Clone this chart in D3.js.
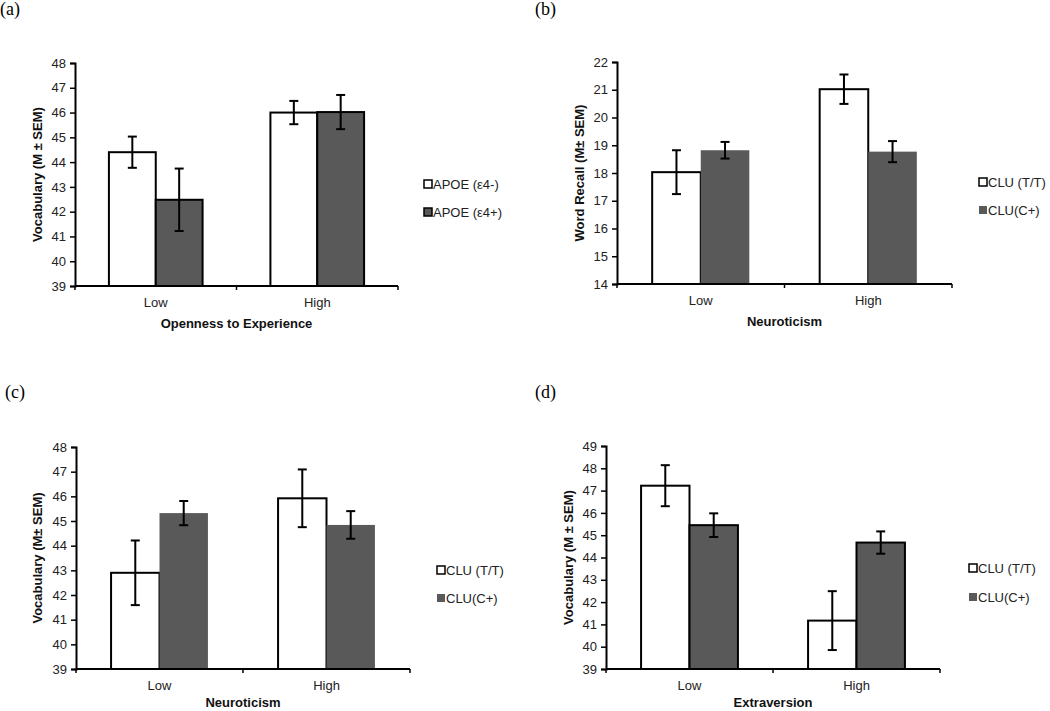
<!DOCTYPE html>
<html><head><meta charset="utf-8">
<script src="https://cdn.jsdelivr.net/npm/d3@7"></script>
<style>
body{margin:0;background:#fff;}
svg{display:block;font-family:"Liberation Sans",Arial,sans-serif;}
</style></head>
<body>
<svg id="chart" width="1050" height="711"></svg>
<script>
// ---------- data ----------
const categories = ["Low", "High"];

// (a) Openness to Experience – Vocabulary
const aSeries = ["APOE (ε4-)", "APOE (ε4+)"];
const aWhite = [44.40, 46.00];
const aWhiteErr = [0.63, 0.47];
const aGray = [42.48, 46.02];
const aGrayErr = [1.26, 0.69];
const aTicks = [39, 40, 41, 42, 43, 44, 45, 46, 47, 48];

// (b) Neuroticism – Word Recall
const bSeries = ["CLU (T/T)", "CLU(C+)"];
const bWhite = [18.03, 21.02];
const bWhiteErr = [0.79, 0.53];
const bGray = [18.82, 18.77];
const bGrayErr = [0.30, 0.38];
const bTicks = [14, 15, 16, 17, 18, 19, 20, 21, 22];

// (c) Neuroticism – Vocabulary
const cSeries = ["CLU (T/T)", "CLU(C+)"];
const cWhite = [42.90, 45.92];
const cWhiteErr = [1.31, 1.17];
const cGray = [45.32, 44.84];
const cGrayErr = [0.49, 0.56];
const cTicks = [39, 40, 41, 42, 43, 44, 45, 46, 47, 48];

// (d) Extraversion – Vocabulary
const dSeries = ["CLU (T/T)", "CLU(C+)"];
const dWhite = [47.22, 41.17];
const dWhiteErr = [0.92, 1.32];
const dGray = [45.45, 44.67];
const dGrayErr = [0.53, 0.50];
const dTicks = [39, 40, 41, 42, 43, 44, 45, 46, 47, 48, 49];

// ---------- drawing ----------
const svg = d3.select("#chart");
const GRAY = "#595959";

function drawPanel(o) {
  const g = svg.append("g");
  const x = d3.scaleBand().domain(categories).range([o.x0, o.x1]);
  const bw = x.bandwidth();
  const xs = d3.scaleBand().domain([0, 1]).range([bw * 0.21, bw * 0.79]);
  const y = d3.scaleLinear().domain([o.ticks[0], o.ticks[o.ticks.length - 1]]).range([o.yb, o.yt]);

  const rows = [];
  categories.forEach((c, i) => {
    rows.push({c, s: 0, v: o.white[i], e: o.whiteErr[i]});
    rows.push({c, s: 1, v: o.gray[i], e: o.grayErr[i]});
  });

  // bars
  g.selectAll("rect.bar").data(rows).join("rect")
    .attr("x", d => x(d.c) + xs(d.s))
    .attr("y", d => y(d.v))
    .attr("width", xs.bandwidth())
    .attr("height", d => y(o.ticks[0]) - y(d.v))
    .attr("fill", d => d.s === 0 ? "#fff" : GRAY)
    .attr("stroke", d => (d.s === 0 || o.grayStroke) ? "#000" : "none")
    .attr("stroke-width", 2);

  // error bars
  const eb = g.selectAll("g.err").data(rows).join("g")
    .attr("stroke", "#000").attr("stroke-width", 2);
  eb.append("line")
    .attr("x1", d => x(d.c) + xs(d.s) + xs.bandwidth() / 2)
    .attr("x2", d => x(d.c) + xs(d.s) + xs.bandwidth() / 2)
    .attr("y1", d => y(d.v + d.e)).attr("y2", d => y(d.v - d.e));
  [1, -1].forEach(sgn => {
    eb.append("line")
      .attr("x1", d => x(d.c) + xs(d.s) + xs.bandwidth() / 2 - 4.5)
      .attr("x2", d => x(d.c) + xs(d.s) + xs.bandwidth() / 2 + 4.5)
      .attr("y1", d => y(d.v + sgn * d.e)).attr("y2", d => y(d.v + sgn * d.e));
  });

  // y axis
  const ya = g.append("g").attr("transform", `translate(${o.x0},0)`)
    .call(d3.axisLeft(y).tickValues(o.ticks).tickSize(5).tickPadding(4).tickFormat(d3.format("d")));
  ya.select(".domain").attr("stroke-width", 2);
  ya.selectAll(".tick line").attr("stroke-width", 1.5);
  ya.selectAll("text").attr("font-size", 13).attr("fill", "#222")
    .attr("font-family", "Liberation Sans, Arial, sans-serif");

  // x axis line + ticks at band boundaries
  g.append("line").attr("x1", o.x0).attr("x2", o.x1)
    .attr("y1", o.yb).attr("y2", o.yb).attr("stroke", "#000").attr("stroke-width", 2);
  const bounds = [o.x0].concat(categories.map(c => x(c) + bw));
  g.selectAll("line.xt").data(bounds).join("line")
    .attr("x1", d => d).attr("x2", d => d)
    .attr("y1", o.yb).attr("y2", o.yb + 4)
    .attr("stroke", "#000").attr("stroke-width", 1.5);
  g.selectAll("text.cat").data(categories).join("text")
    .attr("x", d => x(d) + bw / 2).attr("y", o.yb + 21)
    .attr("text-anchor", "middle").attr("font-size", 13).attr("fill", "#222")
    .text(d => d);

  // axis titles
  g.append("text").attr("x", (o.x0 + o.x1) / 2).attr("y", o.yb + o.xtOff)
    .attr("text-anchor", "middle").attr("font-size", 13).attr("font-weight", "bold")
    .attr("fill", "#111").text(o.xTitle);
  g.append("text")
    .attr("transform", `translate(${o.ylx},${(o.yt + o.yb) / 2}) rotate(-90)`)
    .attr("text-anchor", "middle").attr("dy", "0.35em").attr("font-size", 13).attr("font-weight", "bold")
    .attr("fill", "#111").text(o.yTitle);

  // panel label
  g.append("text").attr("x", o.lx).attr("y", o.ly)
    .attr("font-family", "Liberation Serif, Times New Roman, serif")
    .attr("font-size", 18).attr("fill", "#000").text(o.label);

  // legend
  const lg = g.selectAll("g.leg").data(o.series).join("g")
    .attr("transform", (d, i) => `translate(${o.legX},${o.legY + i * o.legGap})`);
  lg.append("rect").attr("x", -4).attr("y", -4).attr("width", 8).attr("height", 8)
    .attr("fill", (d, i) => i === 0 ? "#fff" : GRAY)
    .attr("stroke", (d, i) => (i === 0 || o.legGrayStroke) ? "#000" : "none")
    .attr("stroke-width", 1.5);
  lg.append("text").attr("x", 5).attr("y", 0).attr("dy", "0.36em")
    .attr("font-size", 13).attr("fill", "#222").text(d => d);
}

drawPanel({label: "(a)", lx: 0, ly: 15, x0: 75, x1: 398, yt: 63, yb: 286, ticks: aTicks,
  white: aWhite, whiteErr: aWhiteErr, gray: aGray, grayErr: aGrayErr, grayStroke: true,
  series: aSeries, legX: 428, legY: 184, legGap: 28, legGrayStroke: true, xtOff: 42,
  xTitle: "Openness to Experience", yTitle: "Vocabulary (M ± SEM)", ylx: 37});

drawPanel({label: "(b)", lx: 535, ly: 15, x0: 617, x1: 952, yt: 62, yb: 284, ticks: bTicks,
  white: bWhite, whiteErr: bWhiteErr, gray: bGray, grayErr: bGrayErr, grayStroke: false,
  series: bSeries, legX: 983, legY: 182, legGap: 28, legGrayStroke: false, xtOff: 42,
  xTitle: "Neuroticism", yTitle: "Word Recall (M± SEM)", ylx: 579});

drawPanel({label: "(c)", lx: 5, ly: 398, x0: 76, x1: 410, yt: 447, yb: 669, ticks: cTicks,
  white: cWhite, whiteErr: cWhiteErr, gray: cGray, grayErr: cGrayErr, grayStroke: false,
  series: cSeries, legX: 441, legY: 570, legGap: 28, legGrayStroke: false, xtOff: 38,
  xTitle: "Neuroticism", yTitle: "Vocabulary (M± SEM)", ylx: 37});

drawPanel({label: "(d)", lx: 535, ly: 398, x0: 606, x1: 940, yt: 446, yb: 669, ticks: dTicks,
  white: dWhite, whiteErr: dWhiteErr, gray: dGray, grayErr: dGrayErr, grayStroke: true,
  series: dSeries, legX: 973, legY: 568, legGap: 29, legGrayStroke: false, xtOff: 38,
  xTitle: "Extraversion", yTitle: "Vocabulary (M ± SEM)", ylx: 568});
</script>
</body></html>
